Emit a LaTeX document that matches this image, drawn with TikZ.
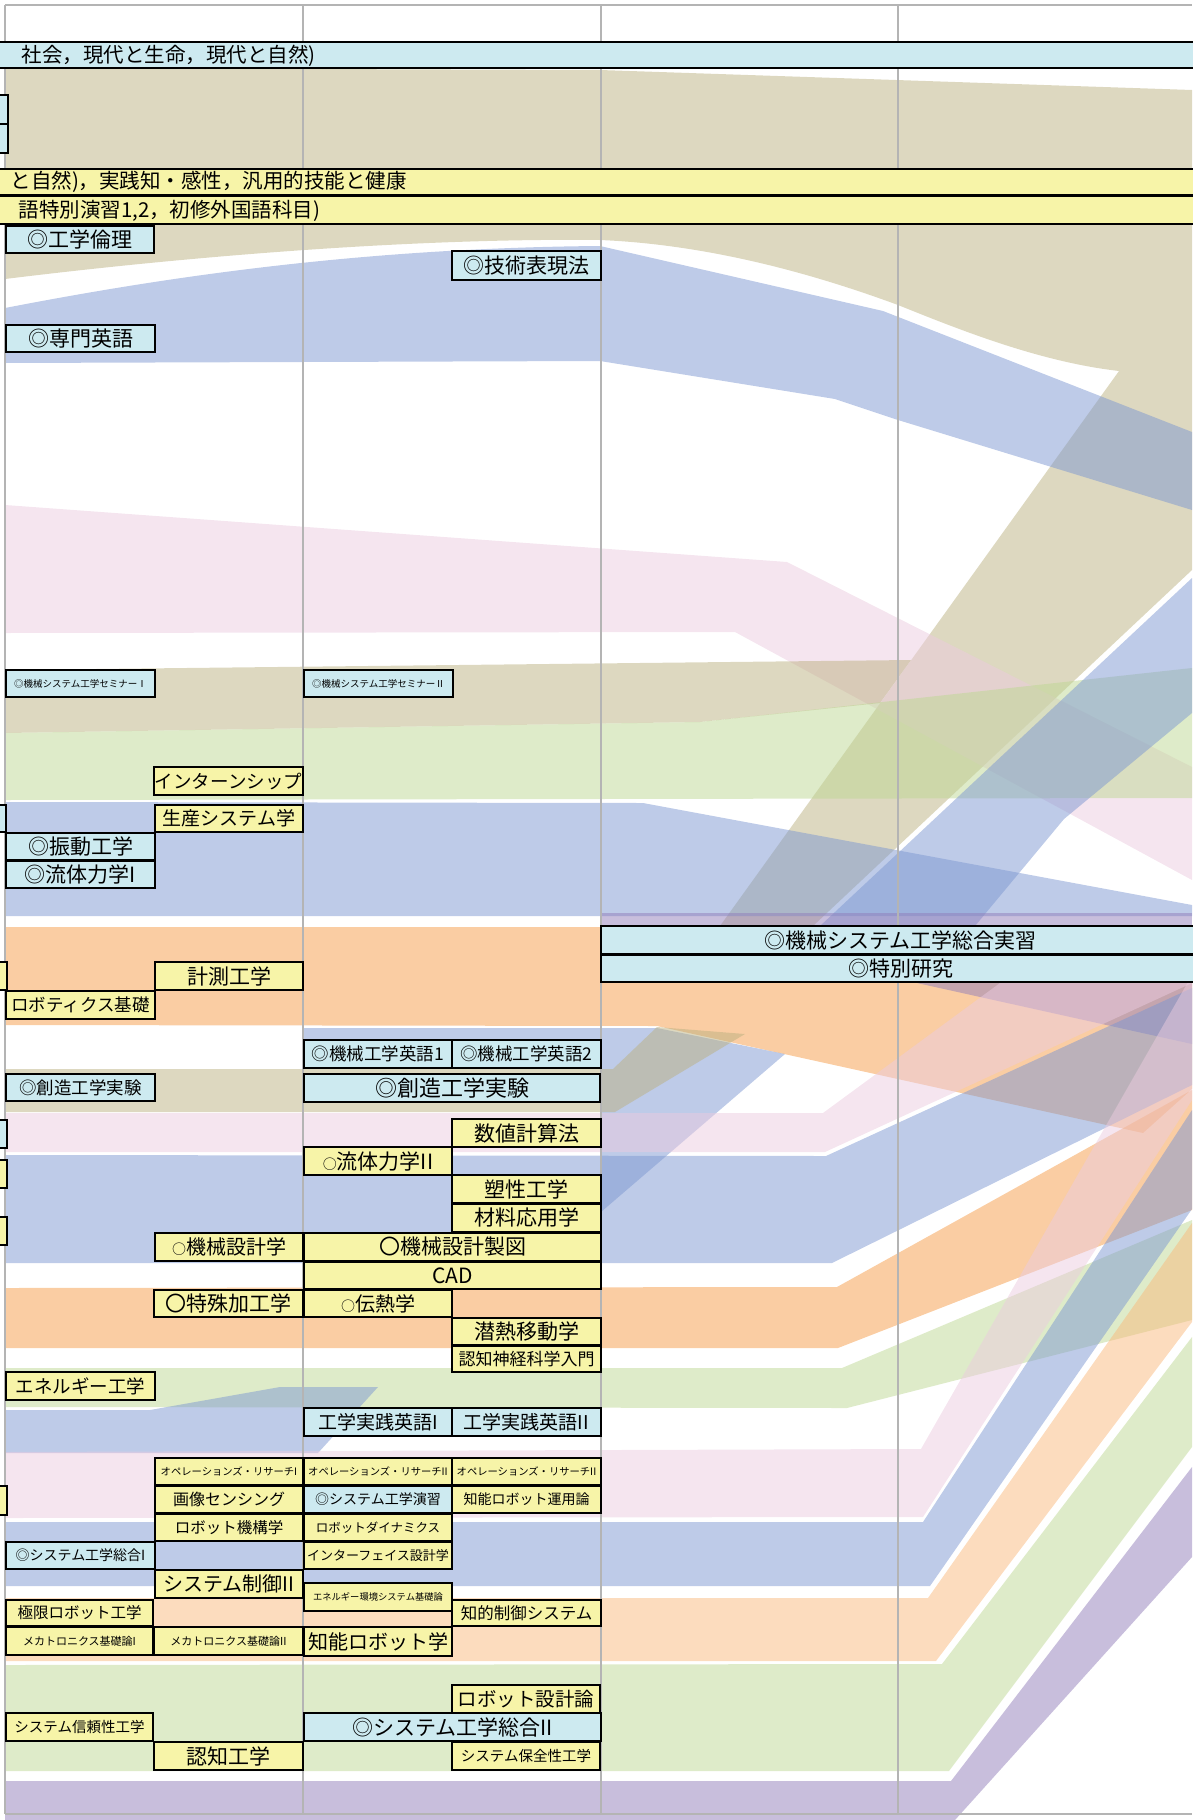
\documentclass[tikz,border=0pt]{standalone}
\usepackage{fontspec}
\setmainfont{Noto Sans CJK JP}

\definecolor{tanflow}{RGB}{187,177,129}
\definecolor{blueflow}{RGB}{125,151,209}
\definecolor{pinkflow}{RGB}{235,203,223}
\definecolor{greenflow}{RGB}{189,215,147}
\definecolor{orangeflow}{RGB}{245,155,71}
\definecolor{orangelite}{RGB}{249,185,125}
\definecolor{purpleflow}{RGB}{145,125,185}
\definecolor{hissublue}{RGB}{205,234,240}
\definecolor{sentakuyellow}{RGB}{247,244,168}
\definecolor{gridgray}{RGB}{180,180,180}

\newcommand{\fs}[1]{\fontsize{#1}{#1}\selectfont}
\newcommand{\smallmaru}{{\fs{14}○}}

\begin{document}
\begin{tikzpicture}[x=1pt,y=-1pt]
    \tikzstyle{hissu}=[draw=black,line width=1.6pt,fill=hissublue,inner sep=0pt]
    \tikzstyle{sentaku}=[draw=black,line width=1.6pt,fill=sentakuyellow,inner sep=0pt]
    \tikzstyle{flow}=[opacity=0.5]
    \tikzstyle{gridline}=[line width=2pt,draw=gridgray]
    \useasboundingbox (0,0) rectangle (1192,1820);

    % flows, top part
    \fill[tanflow,flow] (5,68) -- (600,70) -- (1192,90) -- (1192,570) -- (813,926) -- (720,926) -- (1119,371)
      .. controls (1040,362) and (960,330) .. (898,305) .. controls (830,280) and (720,245) .. (600,240)
      .. controls (420,238) and (200,255) .. (5,279) -- cycle;
    \fill[blueflow,flow] (5,308) .. controls (150,280) and (350,248) .. (600,246) -- (883,311) -- (1192,432)
      -- (1192,510) -- (898,420) -- (835,399) -- (600,361) -- (5,363) -- cycle;
    \fill[pinkflow,flow] (5,505) -- (787,562) -- (1192,767) -- (1192,880) -- (735,632) -- (5,633) -- cycle;
    \fill[tanflow,flow] (5,670) -- (911,660) -- (880,703) -- (700,722) -- (5,733) -- cycle;
    \fill[greenflow,flow] (5,733) -- (700,722) -- (1192,668) -- (1192,798) -- (5,800) -- cycle;
    \fill[blueflow,flow] (5,802) -- (643,803) -- (1192,905) -- (1192,916) -- (5,916) -- cycle;
    \fill[blueflow,flow] (1192,578) -- (1192,713) -- (1064,819) -- (975,926) -- (820,926) -- cycle;
    \fill[purpleflow,flow] (601,913) -- (1192,913) -- (1192,926) -- (601,926) -- cycle;

    % flows, middle part
    \fill[orangeflow,flow] (5,927) -- (1192,927) -- (1192,1089) -- (1143,1133) -- (657,1026) -- (5,1025) -- cycle;
    \fill[purpleflow,flow] (917,983) -- (1192,983) -- (1192,1044) -- cycle;
    \fill[blueflow,flow] (303,1028) -- (657,1028) -- (785,1054) -- (601,1212) -- (601,1068) -- (303,1068) -- cycle;
    \fill[tanflow,flow] (5,1069) -- (613,1069) -- (657,1027) -- (745,1034) -- (615,1112) -- (5,1112) -- cycle;
    \fill[pinkflow,flow] (5,1113) -- (823,1113) -- (1000,983) -- (1192,983) -- (825,1152) -- (5,1152) -- cycle;
    \fill[blueflow,flow] (5,1155) -- (826,1156) -- (1192,988) -- (1192,1085) -- (832,1263) -- (5,1263) -- cycle;
    \fill[orangeflow,flow] (5,1288) -- (837,1287) -- (1192,1090) -- (1192,1210) -- (838,1348) -- (5,1348) -- cycle;
    \fill[greenflow,flow] (5,1368) -- (842,1368) -- (1192,1220) -- (1192,1320) -- (847,1408) -- (5,1407) -- cycle;
    \fill[blueflow,flow] (5,1410) -- (150,1410) -- (280,1387) -- (378,1387) -- (318,1453) -- (5,1453) -- cycle;

    % flows, bottom part
    \fill[pinkflow,flow] (5,1452) -- (921,1449) -- (1192,975) -- (1192,1100) -- (923,1517) -- (5,1518) -- cycle;
    \fill[blueflow,flow] (5,1522) -- (923,1522) -- (1192,1110) -- (1192,1209) -- (930,1586) -- (5,1586) -- cycle;
    \fill[orangelite,flow] (5,1598) -- (928,1598) -- (1192,1223) -- (1192,1322) -- (936,1661) -- (5,1661) -- cycle;
    \fill[greenflow,flow] (5,1665) -- (942,1664) -- (1192,1337) -- (1192,1447) -- (949,1771) -- (5,1771) -- cycle;
    \fill[purpleflow,flow] (5,1781) -- (951,1781) -- (1192,1467) -- (1192,1557) -- (955,1820) -- (5,1820) -- cycle;

    % grid
    \draw[gridline] (5,5) -- (1192,5);
    \draw[gridline] (5,1814) -- (1192,1814);
    \draw[gridline] (5,5) -- (5,1814);
    \draw[gridline] (303,5) -- (303,1814);
    \draw[gridline] (601,5) -- (601,1814);
    \draw[gridline] (898,5) -- (898,1814);

    % common subjects
    \draw[hissu] (-5,42) rectangle (1200,68);
    \node[anchor=west,font=\fs{20.5}] (kyoyo) at (18,55.5) {社会，現代と生命，現代と自然)};
    \draw[sentaku] (-5,169) rectangle (1200,195);
    \node[anchor=west,font=\fs{20.5}] (kiban) at (7,182) {と自然)，実践知・感性，汎用的技能と健康};
    \draw[sentaku] (-5,196) rectangle (1200,224);
    \node[anchor=west,font=\fs{20.5}] (gogaku) at (15,210.5) {語特別演習1,2，初修外国語科目)};

    % cut boxes at the left edge
    \draw[hissu] (-20,95) rectangle (8,124);
    \draw[hissu] (-20,124) rectangle (8,153);
    \draw[hissu] (-20,805) rectangle (6,832);
    \draw[sentaku] (-20,962) rectangle (7,990);
    \draw[hissu] (-20,1120) rectangle (7,1148);
    \draw[sentaku] (-20,1160) rectangle (7,1188);
    \draw[sentaku] (-20,1217) rectangle (7,1245);
    \draw[sentaku] (-20,1486) rectangle (7,1515);

    % subjects
    \node[hissu,minimum width=148pt,minimum height=27pt,font=\fs{21}] (rinri) at (80,239.5) {◎工学倫理};
    \node[hissu,minimum width=149pt,minimum height=29pt,font=\fs{21}] (hyogen) at (526.5,265.5) {◎技術表現法};
    \node[hissu,minimum width=149pt,minimum height=27pt,font=\fs{21}] (senmoneigo) at (80.5,338.5) {◎専門英語};
    \node[hissu,minimum width=149pt,minimum height=27pt,font=\fs{9.5}] (semi1) at (80.5,683.5) {◎機械システム工学セミナーⅠ};
    \node[hissu,minimum width=149pt,minimum height=27pt,font=\fs{9.5}] (semi2) at (378.5,683.5) {◎機械システム工学セミナーⅡ};
    \node[sentaku,minimum width=149pt,minimum height=28pt,font=\fs{18.5}] (intern) at (228.5,781) {インターンシップ};
    \node[sentaku,minimum width=148pt,minimum height=27pt,font=\fs{19}] (seisan) at (229,818.5) {生産システム学};
    \node[hissu,minimum width=149pt,minimum height=27pt,font=\fs{21}] (shindo) at (80.5,846.5) {◎振動工学};
    \node[hissu,minimum width=149pt,minimum height=27pt,font=\fs{21}] (ryutai1) at (80.5,874.5) {◎流体力学I};
    \node[sentaku,minimum width=148pt,minimum height=28pt,font=\fs{21}] (keisoku) at (229,976) {計測工学};
    \node[sentaku,minimum width=149pt,minimum height=28pt,font=\fs{17.5}] (robokiso) at (80.5,1005) {ロボティクス基礎};
    \node[hissu,minimum width=599pt,minimum height=28pt,font=\fs{21}] (sogojisshu) at (900.5,940) {◎機械システム工学総合実習};
    \node[hissu,minimum width=599pt,minimum height=27pt,font=\fs{21}] (tokken) at (900.5,968.5) {◎特別研究};
    \node[hissu,minimum width=148pt,minimum height=28pt,font=\fs{17.5}] (kikaieigo1) at (378,1054) {◎機械工学英語1};
    \node[hissu,minimum width=149pt,minimum height=28pt,font=\fs{17.5}] (kikaieigo2) at (526.5,1054) {◎機械工学英語2};
    \node[hissu,minimum width=149pt,minimum height=27pt,font=\fs{17.5}] (sozo1) at (80.5,1087.5) {◎創造工学実験};
    \node[hissu,minimum width=296pt,minimum height=28pt,font=\fs{22}] (sozo2) at (452,1088) {◎創造工学実験};
    \node[sentaku,minimum width=149pt,minimum height=28pt,font=\fs{21}] (suchi) at (526.5,1133) {数値計算法};
    \node[sentaku,minimum width=148pt,minimum height=28pt,font=\fs{21}] (ryutai2) at (378,1161) {\smallmaru 流体力学II};
    \node[sentaku,minimum width=149pt,minimum height=28pt,font=\fs{21}] (sosei) at (526.5,1189) {塑性工学};
    \node[sentaku,minimum width=149pt,minimum height=28pt,font=\fs{21}] (zairyo) at (526.5,1218) {材料応用学};
    \node[sentaku,minimum width=148pt,minimum height=28pt,font=\fs{20}] (sekkei) at (229,1247) {\smallmaru 機械設計学};
    \node[sentaku,minimum width=297pt,minimum height=28pt,font=\fs{21}] (seizu) at (452.5,1247) {〇機械設計製図};
    \node[sentaku,minimum width=297pt,minimum height=27pt,font=\fs{21}] (cad) at (452.5,1275.5) {CAD};
    \node[sentaku,minimum width=149pt,minimum height=27pt,font=\fs{21}] (tokushu) at (228.5,1303.5) {〇特殊加工学};
    \node[sentaku,minimum width=148pt,minimum height=27pt,font=\fs{20}] (dennetsu) at (378,1303.5) {\smallmaru 伝熱学};
    \node[sentaku,minimum width=149pt,minimum height=27pt,font=\fs{21}] (sennetsu) at (526.5,1331.5) {潜熱移動学};
    \node[sentaku,minimum width=149pt,minimum height=26pt,font=\fs{17}] (ninchishinkei) at (526.5,1359) {認知神経科学入門};
    \node[sentaku,minimum width=149pt,minimum height=28pt,font=\fs{18.5}] (energy) at (80.5,1386) {エネルギー工学};
    \node[hissu,minimum width=148pt,minimum height=28pt,font=\fs{19}] (jissen1) at (378,1422) {工学実践英語I};
    \node[hissu,minimum width=149pt,minimum height=28pt,font=\fs{19}] (jissen2) at (526.5,1422) {工学実践英語II};
    \node[sentaku,minimum width=148pt,minimum height=27pt,font=\fs{10.3}] (or1) at (229,1471.5) {オペレーションズ・リサーチI};
    \node[sentaku,minimum width=148pt,minimum height=27pt,font=\fs{10.3}] (or2) at (378,1471.5) {オペレーションズ・リサーチII};
    \node[sentaku,minimum width=149pt,minimum height=27pt,font=\fs{10.3}] (or3) at (526.5,1471.5) {オペレーションズ・リサーチII};
    \node[sentaku,minimum width=148pt,minimum height=27pt,font=\fs{16}] (gazo) at (229,1499.5) {画像センシング};
    \node[hissu,minimum width=148pt,minimum height=27pt,font=\fs{14}] (enshu) at (378,1499.5) {◎システム工学演習};
    \node[sentaku,minimum width=149pt,minimum height=27pt,font=\fs{14}] (unyo) at (526.5,1499.5) {知能ロボット運用論};
    \node[sentaku,minimum width=148pt,minimum height=27pt,font=\fs{15.5}] (kiko) at (229,1527.5) {ロボット機構学};
    \node[sentaku,minimum width=148pt,minimum height=27pt,font=\fs{12.5}] (dynamics) at (378,1527.5) {ロボットダイナミクス};
    \node[hissu,minimum width=149pt,minimum height=27pt,font=\fs{14}] (sogo1) at (80.5,1555.5) {◎システム工学総合I};
    \node[sentaku,minimum width=148pt,minimum height=27pt,font=\fs{13}] (interface) at (378,1555.5) {インターフェイス設計学};
    \node[sentaku,minimum width=148pt,minimum height=28pt,font=\fs{20}] (seigyo) at (229,1584) {システム制御II};
    \node[sentaku,minimum width=148pt,minimum height=28pt,font=\fs{9.3}] (kankyo) at (378,1597) {エネルギー環境システム基礎論};
    \node[sentaku,minimum width=147pt,minimum height=26pt,font=\fs{15.5}] (kyokugen) at (79.5,1613) {極限ロボット工学};
    \node[sentaku,minimum width=149pt,minimum height=26pt,font=\fs{16.5}] (chiteki) at (526.5,1613) {知的制御システム};
    \node[sentaku,minimum width=147pt,minimum height=28pt,font=\fs{11}] (mecha1) at (79.5,1641) {メカトロニクス基礎論I};
    \node[sentaku,minimum width=149pt,minimum height=28pt,font=\fs{11}] (mecha2) at (228.5,1641) {メカトロニクス基礎論II};
    \node[sentaku,minimum width=148pt,minimum height=29pt,font=\fs{20}] (chino) at (378,1641.5) {知能ロボット学};
    \node[sentaku,minimum width=148pt,minimum height=28pt,font=\fs{19.5}] (robosekkei) at (526,1699) {ロボット設計論};
    \node[sentaku,minimum width=147pt,minimum height=28pt,font=\fs{14.5}] (shinrai) at (79.5,1727) {システム信頼性工学};
    \node[hissu,minimum width=297pt,minimum height=28pt,font=\fs{21}] (sogo2) at (452.5,1727) {◎システム工学総合II};
    \node[sentaku,minimum width=149pt,minimum height=28pt,font=\fs{21}] (ninchi) at (228.5,1756) {認知工学};
    \node[sentaku,minimum width=148pt,minimum height=28pt,font=\fs{14.5}] (hozen) at (526,1756) {システム保全性工学};
\end{tikzpicture}
\end{document}
